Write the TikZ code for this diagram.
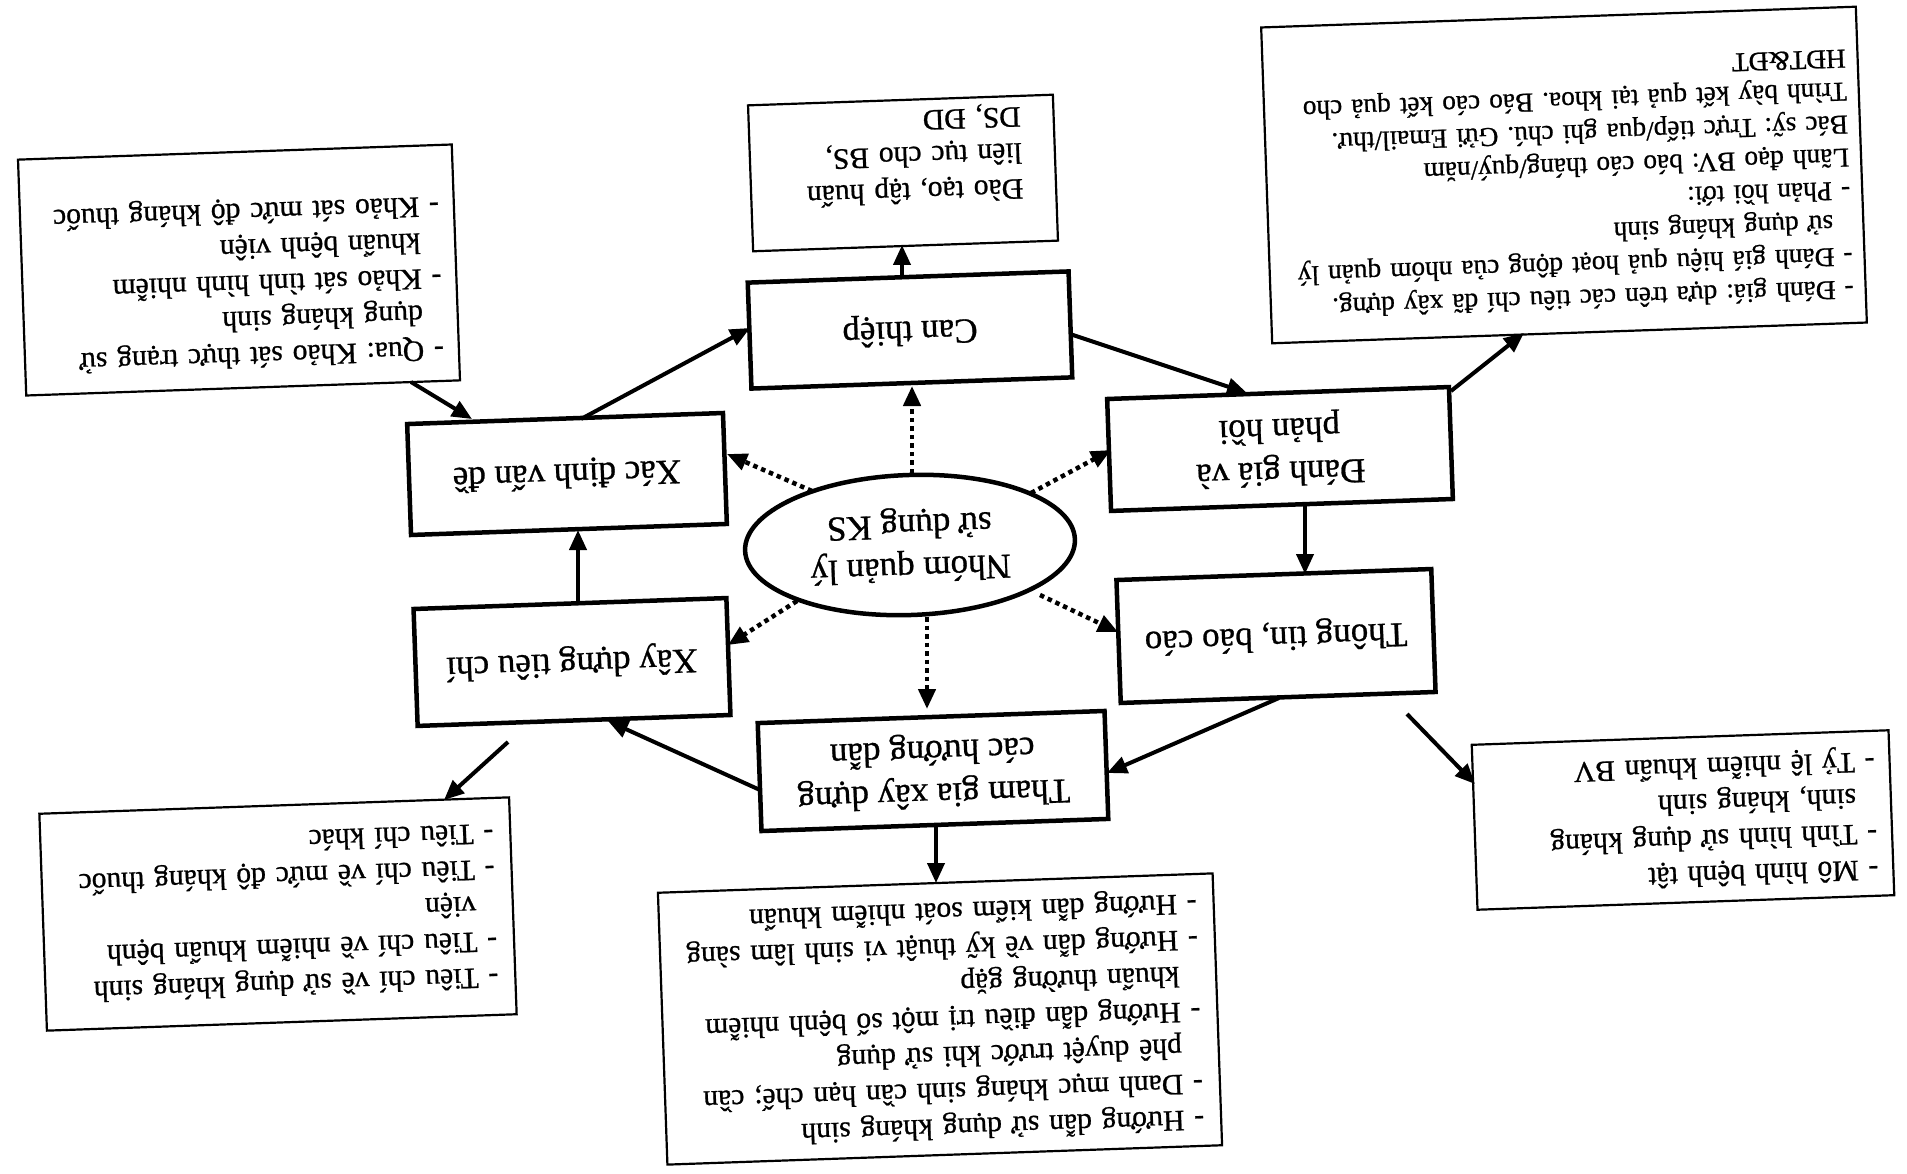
\documentclass[tikz,border=0pt]{standalone}
\usepackage{fontspec}
\setmainfont{Liberation Serif}[FakeBold=0.8]
\usetikzlibrary{arrows.meta,shapes.geometric,calc}
\newcommand{\hg}{\hphantom{- }}
\frenchspacing
\begin{document}
\begin{tikzpicture}[x=1pt,y=-1pt,
  mainbox/.style={draw, line width=4.5pt, rotate=182, align=center, inner sep=0pt, font=\fontsize{35}{43}\selectfont},
  infobox/.style={draw, line width=2.2pt, rotate=182, align=left, inner ysep=6pt, font=\fontsize{29.6}{36}\selectfont},
  arr/.style={line width=4pt, -{Triangle[length=20pt,width=17pt]}},
  dotarr/.style={line width=4.5pt, dash pattern=on 4.5pt off 4pt, -{Triangle[length=20pt,width=17pt]}}
]
\fill[white] (0,0) rectangle (1907,1174);
\useasboundingbox (0,0) rectangle (1907,1174);

% main cycle
\node[mainbox, minimum width=321pt, minimum height=106pt] (can) at (910,330) {Can thiệp};
\node[mainbox, minimum width=316pt, minimum height=111pt] (xac) at (567,474) {Xác định vấn đề};
\node[mainbox, minimum width=313pt, minimum height=117pt] (xay) at (572,662) {Xây dựng tiêu chí};
\node[mainbox, minimum width=347pt, minimum height=108pt] (tham) at (933,771) {Tham gia xây dựng\\các hướng dẫn};
\node[mainbox, minimum width=315pt, minimum height=123pt] (thong) at (1276,636) {Thông tin, báo cáo};
\node[mainbox, minimum width=342pt, minimum height=112pt] (danh) at (1280,449) {Đánh giá và\\phản hồi};
\node[draw, ellipse, line width=4.5pt, rotate=182, minimum width=330pt, minimum height=140pt, inner sep=0pt, align=center, font=\fontsize{35}{43}\selectfont] (nhom) at (910,545) {Nhóm quản lý\\sử dụng KS};

% info boxes
\node[infobox, text width=239pt, inner xsep=33pt, inner ysep=0pt, minimum height=146pt] (dao) at (903,173)
  {\rule{0pt}{56pt}Đào tạo, tập huấn\\liên tục cho BS,\\DS, ĐD};
\node[infobox, text width=404pt, inner xsep=15pt, minimum height=236pt] (qua) at (239,270)
  {- Qua: Khảo sát thực trạng sử\\\hg dụng kháng sinh\\- Khảo sát tình hình nhiễm\\\hg khuẩn bệnh viện\\- Khảo sát mức độ kháng thuốc\rule[-32pt]{0pt}{1pt}};
\node[infobox, text width=571pt, inner xsep=12pt, minimum height=316pt, font=\fontsize{27.3}{33}\selectfont] (tr) at (1564,175)
  {- Đánh giá: dựa trên các tiêu chí đã xây dựng.\\- Đánh giá hiệu quả hoạt động của nhóm quản lý\\\hg sử dụng kháng sinh\\- Phản hồi tới:\\Lãnh đạo BV: báo cáo tháng/quý/năm\\Bác sỹ: Trực tiếp/qua ghi chú. Gửi Email/thư.\\Trình bày kết quả tại khoa. Báo cáo kết quả cho\\HĐT\&ĐT\rule[-19pt]{0pt}{1pt}};
\node[infobox, text width=436pt, inner xsep=17pt, minimum height=217pt] (tieu) at (278,914)
  {- Tiêu chí về sử dụng kháng sinh\\- Tiêu chí về nhiễm khuẩn bệnh\\\hg viện\\- Tiêu chí về mức độ kháng thuốc\\- Tiêu chí khác};
\node[infobox, text width=521pt, inner xsep=17pt, minimum height=272pt] (huong) at (940,1019)
  {- Hướng dẫn sử dụng kháng sinh\\- Danh mục kháng sinh cần hạn chế; cần\\\hg phê duyệt trước khi sử dụng\\- Hướng dẫn điều trị một số bệnh nhiễm\\\hg khuẩn thường gặp\\- Hướng dẫn về kỹ thuật vi sinh lâm sàng\\- Hướng dẫn kiểm soát nhiễm khuẩn};
\node[infobox, text width=387pt, inner xsep=15pt, minimum height=165pt] (mo) at (1683,820)
  {- Mô hình bệnh tật\\- Tình hình sử dụng kháng\\\hg sinh, kháng sinh\\- Tỷ lệ nhiễm khuẩn BV};

% cycle arrows
\draw[arr] ($(xac)+(14,-55)$) -- ($(can)+(-160,-2)$);
\draw[arr] ($(can)+(160,4)$) -- ($(danh)+(-33,-56)$);
\draw[arr] ($(danh)+(25,56)$) -- ($(thong)+(29,-62)$);
\draw[arr] ($(thong)+(3,62)$) -- ($(tham)+(174,2)$);
\draw[arr] ($(tham)+(-173,19)$) -- ($(xay)+(36,59)$);
\draw[arr] ($(xay)+(6,-58)$) -- ($(xac)+(11,56)$);
% arrows to info boxes
\draw[arr] ($(can)+(-8,-53)$) -- ($(dao)+(-1,72)$);
\draw[arr] ($(qua)+(172,112)$) -- ($(xac)+(-95,-55)$);
\draw[arr] ($(danh)+(171,-58)$) -- ($(tr)+(-40,158)$);
\draw[arr] ($(thong)+(131,78)$) -- ($(mo)+(-208,-36)$);
\draw[arr] ($(tham)+(3,54)$) -- ($(huong)+(-4,-136)$);
\draw[arr] ($(xay)+(-64,80)$) -- ($(tieu)+(166,-114)$);
% dotted arrows from the group
\draw[dotarr] ($(nhom)+(2,-72)$) -- ($(can)+(2,56)$);
\draw[dotarr] ($(nhom)+(-98,-54)$) -- ($(xac)+(160,-20)$);
\draw[dotarr] ($(nhom)+(121,-52)$) -- ($(danh)+(-169,1)$);
\draw[dotarr] ($(nhom)+(130,50)$) -- ($(thong)+(-158,-4)$);
\draw[dotarr] ($(nhom)+(17,72)$) -- ($(tham)+(-6,-62)$);
\draw[dotarr] ($(nhom)+(-113,56)$) -- ($(xay)+(156,-17)$);
\end{tikzpicture}
\end{document}
